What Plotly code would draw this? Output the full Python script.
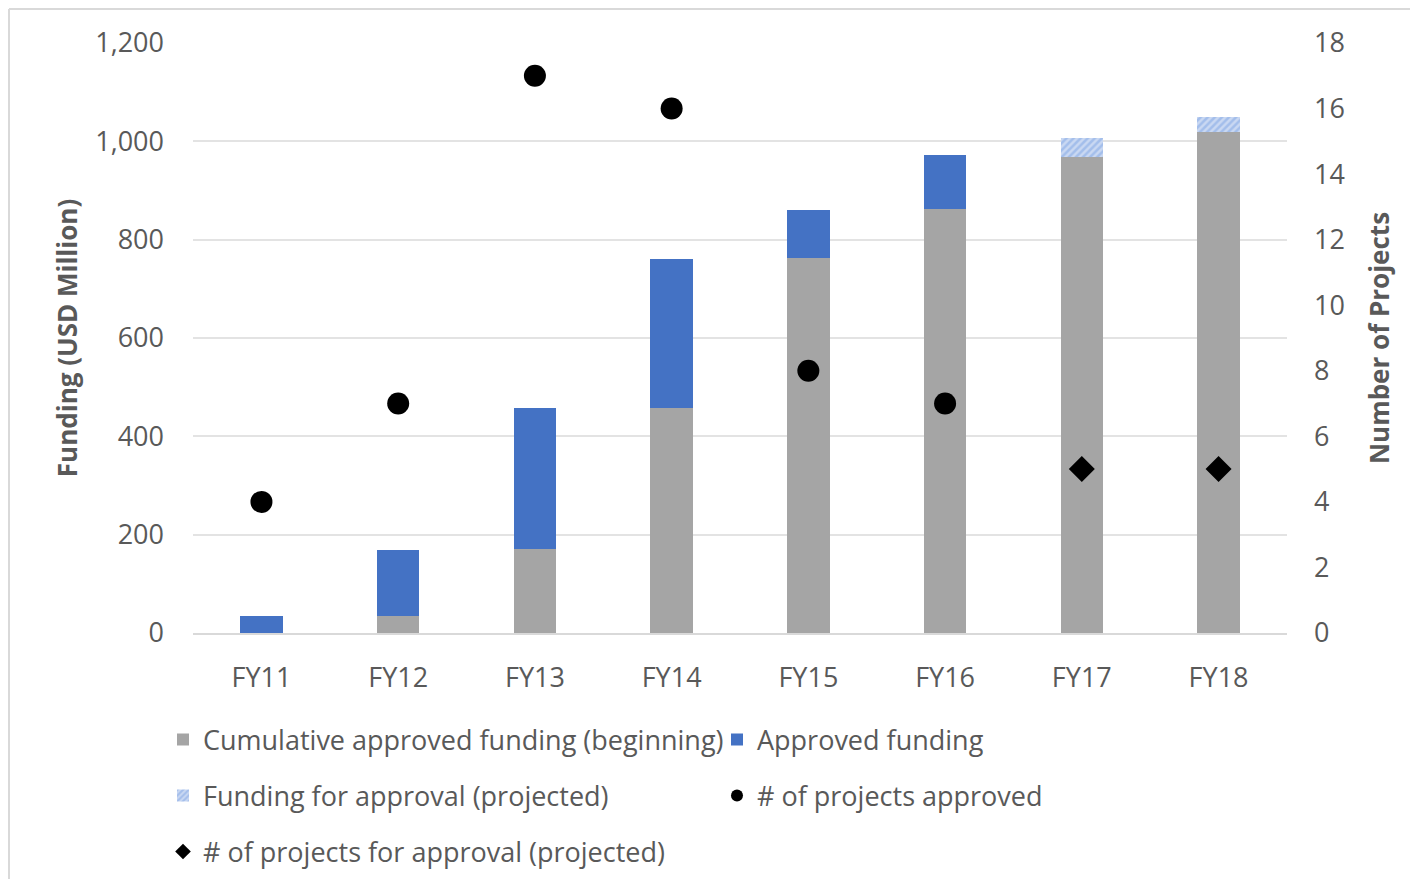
import plotly.graph_objects as go

years = ["FY11", "FY12", "FY13", "FY14", "FY15", "FY16", "FY17", "FY18"]
cumulative_beginning = [0, 35, 170, 457, 762, 862, 968, 1018]
approved_funding = [35, 134, 287, 303, 98, 110, 0, 0]
projected_funding = [0, 0, 0, 0, 0, 0, 38, 31]
projects_approved = [4, 7, 17, 16, 8, 7, None, None]
projects_projected = [None, None, None, None, None, None, 5, 5]

left_ticks = [0, 200, 400, 600, 800, 1000, 1200]
right_ticks = [0, 2, 4, 6, 8, 10, 12, 14, 16, 18]

FONT = "Open Sans"
TXT = "#595959"

fig = go.Figure()
fig.add_trace(go.Bar(x=years, y=cumulative_beginning, name="Cumulative approved funding (beginning)",
                     marker=dict(color="#A5A5A5", line=dict(width=0)), legend="legend"))
fig.add_trace(go.Bar(x=years, y=approved_funding, name="Approved funding",
                     marker=dict(color="#4472C4", line=dict(width=0)), legend="legend"))
fig.add_trace(go.Bar(x=years, y=projected_funding, name="Funding for approval (projected)",
                     marker=dict(color="#C9D8F2", line=dict(width=0),
                                 pattern=dict(shape="/", fgcolor="#7EA3E3", bgcolor="#C9D8F2",
                                              size=5, solidity=0.5)),
                     legend="legend2"))
fig.add_trace(go.Scatter(x=years, y=projects_approved, name="# of projects approved", yaxis="y2",
                         mode="markers", marker=dict(symbol="circle", size=22, color="black"),
                         legend="legend2"))
fig.add_trace(go.Scatter(x=years, y=projects_projected, name="# of projects for approval (projected)", yaxis="y2",
                         mode="markers", marker=dict(symbol="diamond", size=20, color="black"),
                         legend="legend3"))

# page has an 8px body margin; keep the figure a little smaller than the window so nothing scrolls
OFF = 8
W, H = 1422 - 2 * OFF - 4, 889 - 2 * OFF - 2
PL, PR, PT, PB = 193, 1287, 43, 633  # plot area in page coordinates
L, T = PL - OFF, PT - OFF
pw, ph = PR - PL, PB - PT
R, B = W - L - pw, H - T - ph

def px(x):
    return (x - PL) / pw

def py(y):
    return (PB - y) / ph

legend_common = dict(orientation="h", xanchor="left", yanchor="middle",
                     font=dict(family=FONT, size=27, color=TXT),
                     bgcolor="rgba(0,0,0,0)", entrywidth=509, entrywidthmode="pixels",
                     traceorder="normal", itemsizing="constant")

frame_left = OFF + 1
frame_top = OFF + 1
frame_right = OFF + W
frame_bottom = OFF + H

fig.update_layout(
    width=W, height=H,
    margin=dict(l=L, r=R, t=T, b=B, autoexpand=False),
    paper_bgcolor="white", plot_bgcolor="white",
    barmode="stack", bargap=0.69,
    font=dict(family=FONT, color=TXT),
    xaxis=dict(type="category", tickfont=dict(size=27, color=TXT), showgrid=False,
               showline=True, linecolor="#D9D9D9", linewidth=2, ticks="", ticklabelstandoff=20),
    yaxis=dict(range=[0, 1200], tickvals=left_ticks, tickformat=",", tickfont=dict(size=27, color=TXT),
               showgrid=True, gridcolor="#E3E3E3", gridwidth=2, zeroline=False, showline=False,
               ticklabelstandoff=28,
               title=dict(text="<b>Funding (USD Million)</b>", font=dict(size=26, color=TXT), standoff=10)),
    yaxis2=dict(range=[0, 18], tickvals=right_ticks, overlaying="y", side="right",
                tickfont=dict(size=27, color=TXT), showgrid=False, zeroline=False, showline=False,
                ticklabelstandoff=26,
                title=dict(text="<b>Number of Projects</b>", font=dict(size=26, color=TXT), standoff=26)),
    legend=dict(x=px(163), y=py(740), **legend_common),
    legend2=dict(x=px(163), y=py(796), **legend_common),
    legend3=dict(x=px(163), y=py(852), **legend_common),
    showlegend=True,
    shapes=[
        dict(type="line", xref="paper", yref="paper", x0=px(frame_left), x1=px(frame_right),
             y0=py(frame_top), y1=py(frame_top), line=dict(color="#D9D9D9", width=2), layer="below"),
        dict(type="line", xref="paper", yref="paper", x0=px(frame_left), x1=px(frame_left),
             y0=py(frame_top), y1=py(frame_bottom), line=dict(color="#D9D9D9", width=2), layer="below"),
    ],
)

fig.write_html("out.html")
